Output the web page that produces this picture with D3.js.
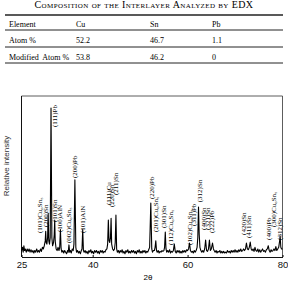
<!DOCTYPE html>
<html>
<head>
<meta charset="utf-8">
<script src="https://cdn.jsdelivr.net/npm/d3@7"></script>
<style>
  body { margin: 0; background: #fff; }
  svg { display: block; }
</style>
</head>
<body>
<script>
//Width and height
var w = 288;
var h = 283;

//Table data
var tableTitle = "Composition of the Interlayer Analyzed by EDX";
var elements = ["Cu", "Sn", "Pb"];
var atomPct = ["52.2", "46.7", "1.1"];
var modifiedPct = ["53.8", "46.2", "0"];

//XRD pattern, [2theta, relative intensity]
var pattern = [
  [25.0,4],[25.2,6],[25.35,3],[25.5,7],[25.65,4],[25.8,5],[26.0,3],[26.2,5],[26.4,3.5],[26.6,5],
  [26.8,3],[27.0,4.5],[27.2,3],[27.4,4],[27.6,2.5],[27.8,4],[28.0,3],[28.2,5],[28.4,3],[28.6,4],
  [28.8,3],[29.0,5],[29.2,3.5],[29.4,6],[29.6,5],[29.8,7],[30.0,10],[30.1,16],[30.2,9],[30.35,8],
  [30.5,12],[30.62,27],[30.75,10],[30.9,8],[31.05,12],[31.22,92.5],[31.4,12],[31.55,7],[31.75,9],[31.9,14],
  [32.0,23],[32.1,10],[32.3,5],[32.5,4],[32.7,6],[32.9,4],[33.05,6],[33.2,17],[33.35,5],[33.5,3],
  [33.7,4],[33.9,2.5],[34.1,4],[34.3,3],[34.5,2],[34.7,4],[34.85,3],[35.0,7.5],[35.15,3],[35.3,4],
  [35.5,2.5],[35.7,5],[35.9,4],[36.05,8],[36.25,48],[36.45,6],[36.6,3],[36.8,4],[37.0,2.5],[37.2,3.5],
  [37.4,2],[37.6,4],[37.75,5],[37.9,17],[38.05,4],[38.2,3],[38.4,4],[38.6,2.5],[38.8,3.5],[39.0,2],
  [39.2,4],[39.4,3],[39.6,4.5],[39.8,2.5],[40.0,3.5],[40.2,2],[40.4,4],[40.6,3],[40.8,4],[41.0,2.5],
  [41.2,3.5],[41.4,2],[41.6,4],[41.8,3],[42.0,4],[42.2,2.5],[42.4,3.5],[42.6,3],[42.8,4.5],[43.0,5],
  [43.15,8],[43.3,23],[43.45,10],[43.6,9],[43.75,12],[43.88,24],[44.0,8],[44.2,5],[44.4,4],[44.6,5],
  [44.75,9],[44.9,26],[45.05,5],[45.2,3],[45.4,4],[45.6,2.5],[45.8,4],[46.0,3],[46.2,4.5],[46.4,2.5],
  [46.6,3.5],[46.8,2],[47.0,4],[47.2,3],[47.4,4.5],[47.6,2.5],[47.8,3.5],[48.0,2.5],[48.2,4],[48.4,3],
  [48.6,4],[48.8,2.5],[49.0,3.5],[49.2,2],[49.4,4],[49.6,3],[49.8,4.5],[50.0,2.5],[50.2,3.5],[50.4,2.5],
  [50.6,4],[50.8,3],[51.0,4],[51.2,2.5],[51.4,3.5],[51.6,3],[51.8,4.5],[52.0,6],[52.25,33.5],[52.45,5],
  [52.6,3],[52.8,4],[53.0,4],[53.15,6],[53.3,10],[53.45,4],[53.6,3],[53.8,4],[54.0,2.5],[54.2,3.5],
  [54.4,3],[54.6,4],[54.8,3.5],[55.0,4],[55.15,6],[55.3,15.5],[55.45,5],[55.6,3],[55.8,4],[56.0,3],
  [56.2,4.5],[56.4,2.5],[56.6,3.5],[56.8,3],[57.0,4],[57.2,8],[57.4,3.5],[57.6,2.5],[57.8,4],[58.0,3],
  [58.2,4],[58.4,2.5],[58.6,3.5],[58.8,2.5],[59.0,4],[59.2,3],[59.4,4],[59.6,3],[59.8,4.5],[60.0,4],
  [60.2,5],[60.4,8.7],[60.6,4],[60.8,3],[61.0,3.5],[61.2,2.5],[61.4,4],[61.6,3],[61.8,4],[62.0,6],
  [62.15,12],[62.3,31],[62.45,14],[62.6,6],[62.8,4],[63.0,3],[63.2,4],[63.4,3],[63.6,5],[63.8,10.5],
  [64.0,4],[64.2,3.5],[64.4,5],[64.6,10.5],[64.8,4],[65.0,5],[65.25,8.7],[65.45,5],[65.6,4],[65.8,3],
  [66.0,4],[66.2,2.5],[66.4,3.5],[66.6,3],[66.8,4],[67.0,2.5],[67.2,3.5],[67.4,2.5],[67.6,3.5],[67.8,2.5],
  [68.0,3],[68.2,2.5],[68.4,4],[68.6,3],[68.8,3.5],[69.0,2.5],[69.2,4],[69.4,3],[69.6,4],[69.8,3],
  [70.0,4.5],[70.2,3],[70.4,4],[70.6,3],[70.8,4.5],[71.0,3.5],[71.2,5],[71.4,3.5],[71.6,4],[71.8,5],
  [72.0,4],[72.2,5],[72.4,8.7],[72.6,5],[72.8,4.5],[73.0,6],[73.2,9.3],[73.4,5],[73.6,4],[73.8,5],
  [74.0,3.5],[74.2,6],[74.4,4],[74.6,3.5],[74.8,5],[75.0,3],[75.2,4.5],[75.4,3],[75.6,4],[75.8,5],
  [76.0,3.5],[76.2,4],[76.4,3],[76.6,4.5],[76.8,5],[77.0,7],[77.2,4],[77.4,3],[77.6,4.5],[77.8,3.5],
  [78.0,4],[78.2,5],[78.4,4],[78.6,6.5],[78.8,4],[79.0,5],[79.2,6],[79.4,10],[79.5,13],[79.65,6],
  [79.8,5],[80.0,5]
];

//Peak labels: text, 2theta where the label sits, intensity level of the label's lower end
var peakLabels = ["(101)Cu₆Sn₅","(200)Sn","(111)Pb","(101)Sn","(100)AlN","(002)Cu₆Sn₅","(200)Pb","(101)AlN",
  "(111)Cu","(220)Sn","(211)Sn","(220)Pb","(201)Cu₆Sn₅","(301)Sn","(112)Cu₆Sn₅","(102)Cu₆Sn₅",
  "(311)Pb","(312)Sn","(400)Sn","(321)Sn","(222)Pb","(420)Sn","(411)Sn","(400)Pb","(300)Cu₆Sn₅","(312)Sn"];
var labelAt = [28.9,30.06,31.9,31.9,33.1,34.86,36.27,37.96,
  43.3,44.07,44.9,52.5,53.35,54.9,56.5,60.5,
  61.35,62.6,63.35,64.2,65.15,71.8,72.8,77.0,78.2,79.4];
var labelLevel = [14.9,18.6,80.7,21.7,15.5,8.7,49,14.9,
  32.3,31,38.5,36,15.5,18,7.5,7.5,
  19.3,34,16.8,16.8,14.9,13.7,11.8,10.6,18.6,10.6];

//Axis ticks
var xTicks = [25, 40, 60, 80];

//Create SVG element
var svg = d3.select("body")
  .append("svg")
  .attr("width", w)
  .attr("height", h);

// ---- table ----
var serif = "'Liberation Serif', 'Times New Roman', serif";

svg.append("text")
  .attr("x", 144)
  .attr("y", 8)
  .attr("text-anchor", "middle")
  .style("font-family", serif)
  .style("font-size", "10px")
  .style("font-variant", "small-caps")
  .style("letter-spacing", "0.4px")
  .text(tableTitle);

var ruleY = [15, 30, 47, 63];
svg.selectAll("line.rule")
  .data(ruleY)
  .enter()
  .append("line")
  .attr("class", "rule")
  .attr("x1", 5)
  .attr("x2", 283)
  .attr("y1", function(d) { return d; })
  .attr("y2", function(d) { return d; })
  .attr("stroke", "#222")
  .attr("stroke-width", function(d, i) { return i == 0 ? 1.4 : 1; });

var colX = [76, 150, 212];
var rows = [
  {name: "Element", vals: elements, y: 27},
  {name: "Atom %", vals: atomPct, y: 43},
  {name: "Modified  Atom %", vals: modifiedPct, y: 60}
];
rows.forEach(function(r) {
  svg.append("text")
    .attr("x", 9)
    .attr("y", r.y)
    .style("font-family", serif)
    .style("font-size", "8px")
    .style("white-space", "pre")
    .text(r.name);
  svg.selectAll(null)
    .data(r.vals)
    .enter()
    .append("text")
    .attr("x", function(d, i) { return colX[i]; })
    .attr("y", r.y)
    .style("font-family", serif)
    .style("font-size", "8px")
    .text(function(d) { return d; });
});

// ---- XRD chart ----
//(plotTop, not "top": window.top is read-only)
var plotLeft = 21.5, plotRight = 282.5, plotTop = 96, plotBottom = 257;

var x = d3.scaleLinear().domain([25, 80]).range([plotLeft, plotRight]);
var y = d3.scaleLinear().domain([0, 100]).range([plotBottom, plotTop]);

//frame (top and right sides)
svg.append("path")
  .attr("d", "M" + plotLeft + "," + plotTop + "H" + plotRight + "V" + plotBottom)
  .attr("fill", "none")
  .attr("stroke", "#333")
  .attr("stroke-width", 0.8);

//left axis line
svg.append("line")
  .attr("x1", plotLeft).attr("x2", plotLeft)
  .attr("y1", plotTop).attr("y2", plotBottom)
  .attr("stroke", "#111")
  .attr("stroke-width", 1);

//bottom axis
var xAxis = d3.axisBottom(x)
  .tickValues(xTicks)
  .tickSizeInner(-2)
  .tickSizeOuter(0)
  .tickPadding(4);

var gx = svg.append("g")
  .attr("transform", "translate(0," + plotBottom + ")")
  .call(xAxis);
gx.select(".domain").attr("stroke", "#111").attr("stroke-width", 1.2);
gx.selectAll("text")
  .style("font-family", "'Liberation Sans', Arial, sans-serif")
  .style("font-size", "9.5px")
  .attr("fill", "#111");

//axis titles
svg.append("text")
  .attr("x", 148)
  .attr("y", 280)
  .attr("text-anchor", "middle")
  .style("font-family", "'Liberation Sans', Arial, sans-serif")
  .style("font-size", "8px")
  .text("2θ");

svg.append("text")
  .attr("transform", "translate(9,166) rotate(-90)")
  .attr("text-anchor", "middle")
  .style("font-family", "'Liberation Sans', Arial, sans-serif")
  .style("font-size", "8px")
  .attr("fill", "#333")
  .text("Relative intensity");

//the pattern itself
var line = d3.line()
  .x(function(d) { return x(d[0]); })
  .y(function(d) { return y(d[1]); });

svg.append("path")
  .datum(pattern)
  .attr("d", line)
  .attr("fill", "none")
  .attr("stroke", "#000")
  .attr("stroke-width", 1.1)
  .attr("stroke-linejoin", "round");

//peak labels, reading upwards
svg.selectAll("text.peak")
  .data(peakLabels)
  .enter()
  .append("text")
  .attr("class", "peak")
  .attr("transform", function(d, i) {
    return "translate(" + x(labelAt[i]) + "," + y(labelLevel[i]) + ") rotate(-90)";
  })
  .attr("dy", "0.35em")
  .style("font-family", serif)
  .style("font-size", "7px")
  .text(function(d) { return d; });
</script>
</body>
</html>
